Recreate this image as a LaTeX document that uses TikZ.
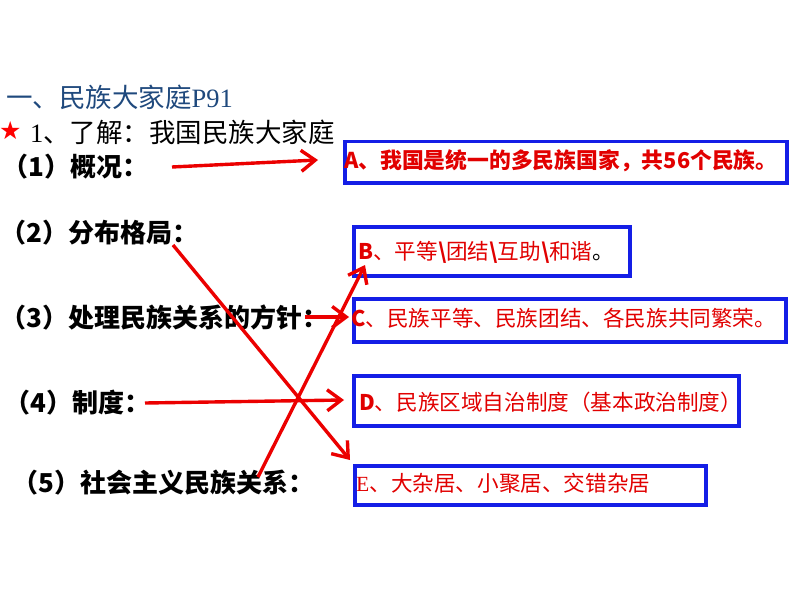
\documentclass[tikz,border=0pt]{standalone}
\usepackage{fontspec}
\setmainfont{Liberation Serif}
\newfontfamily\cjk{Noto Sans CJK SC}
\newfontfamily\symf{DejaVu Sans}
\usetikzlibrary{arrows.meta}
\definecolor{boxblue}{RGB}{20,30,230}
\definecolor{txtred}{RGB}{225,0,0}
\definecolor{arrred}{RGB}{235,0,0}
\definecolor{titleblue}{RGB}{31,73,125}
\begin{document}
\begin{tikzpicture}[x=1pt,y=-1pt,
  ansbox/.style={draw=boxblue,line width=3.5pt,inner sep=0pt,anchor=north west},
  anstext/.style={anchor=west,inner sep=0pt,text=txtred,font=\cjk\fontsize{21.6}{22}\selectfont},
  lbl/.style={anchor=west,inner sep=0pt,font=\cjk\bfseries\fontsize{26}{26}\selectfont},
  link/.style={draw=arrred,line width=3.4pt,-{Straight Barb[length=14pt,width=21pt]}}]
\useasboundingbox (0,0) rectangle (794,596);
% headings
\node[anchor=west,inner sep=0pt,text=titleblue,font=\fontsize{26.5}{27}\selectfont] (title) at (6,97) {{\cjk 一、民族大家庭}P91};
\node[anchor=west,inner sep=0pt,text=red,font=\symf\fontsize{25}{25}\selectfont] (star) at (-1,131) {★};
\node[anchor=west,inner sep=0pt,font=\fontsize{26.5}{27}\selectfont] (sub) at (30,132) {1{\cjk 、了解：我国民族大家庭}};
% left labels
\node[lbl] (l1) at (2,167) {（1）概况：};
\node[lbl] (l2) at (0,233) {（2）分布格局：};
\node[lbl] (l3) at (0,318) {（3）处理民族关系的方针：};
\node[lbl] (l4) at (4,403) {（4）制度：};
\node[lbl] (l5) at (12,483) {（5）社会主义民族关系：};
% boxes
\node[ansbox,minimum width=442pt,minimum height=41pt] (boxA) at (343,140) {};
\node[ansbox,minimum width=276pt,minimum height=49pt] (boxB) at (352,225) {};
\node[ansbox,minimum width=432pt,minimum height=43pt] (boxC) at (352,297) {};
\node[ansbox,minimum width=385pt,minimum height=50pt] (boxD) at (352,374) {};
\node[ansbox,minimum width=351pt,minimum height=39pt] (boxE) at (353,464) {};
% box texts
\node[anstext,font=\cjk\bfseries\fontsize{21.8}{22}\selectfont] (tA) at (344,161) {A、我国是统一的多民族国家，共56个民族。};
\node[anstext] (tB) at (358,252) {{\bfseries B}、平等{\bfseries\textbackslash}团结{\bfseries\textbackslash}互助{\bfseries\textbackslash}和谐\textcolor{black}{。}};
\node[anstext] (tC) at (351,318) {{\bfseries C}、民族平等、民族团结、各民族共同繁荣。};
\node[anstext] (tD) at (359,402) {{\bfseries D}、民族区域自治制度（基本政治制度）};
\node[anstext] (tE) at (356,483) {{\rmfamily E}、大杂居、小聚居、交错杂居};
% arrow ends
\coordinate (s1) at (172,167); \coordinate (e1) at (318,160);
\coordinate (s2) at (173,245); \coordinate (e2) at (350,460);
\coordinate (s3) at (305,317); \coordinate (e3) at (349,317);
\coordinate (s4) at (145,403); \coordinate (e4) at (344,400);
\coordinate (s5) at (258,477); \coordinate (e5) at (365,265);
\draw[link] (s1) -- (e1);
\draw[link] (s2) -- (e2);
\draw[link] (s3) -- (e3);
\draw[link] (s4) -- (e4);
\draw[link] (s5) -- (e5);
\end{tikzpicture}
\end{document}
